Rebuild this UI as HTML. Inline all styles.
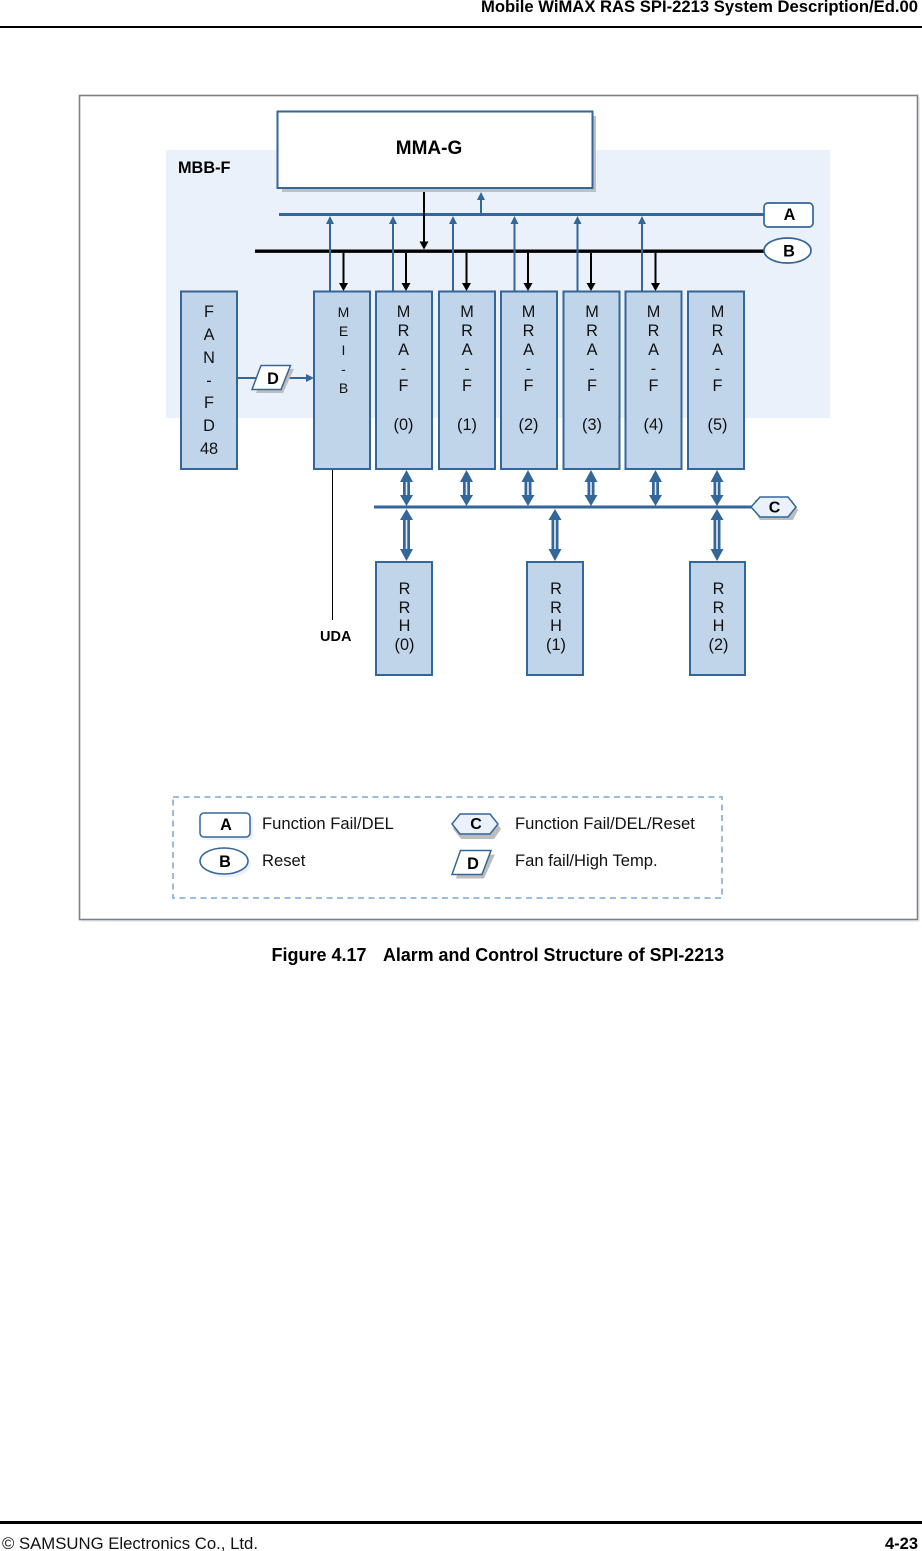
<!DOCTYPE html>
<html><head><meta charset="utf-8"><style>
html,body{margin:0;padding:0;background:#fff}
svg{display:block}
text{font-family:"Liberation Sans",sans-serif;fill:#111}
.b{font-weight:bold;fill:#000}
.m{text-anchor:middle}
.box{fill:#c1d5ea;stroke:#336699;stroke-width:2}
.t{font-size:16.300px;text-anchor:middle}
.blue{stroke:#336699;stroke-width:2;fill:none}
.k{stroke:#000;stroke-width:2;fill:none}
</style></head><body>
<svg width="922" height="1551" viewBox="0 0 922 1551" xmlns="http://www.w3.org/2000/svg">
<!-- header -->
<text x="918" y="12" font-size="16.500" class="b" text-anchor="end" textLength="437" lengthAdjust="spacingAndGlyphs">Mobile WiMAX RAS SPI-2213 System Description/Ed.00</text>
<rect x="0" y="26" width="922" height="2" fill="#000"/>
<!-- frame -->
<rect x="81" y="97" width="839" height="825" fill="#eaf1fa"/>
<rect x="79.500" y="95.500" width="838" height="824" fill="#fff" stroke="#808080" stroke-width="1.600"/>
<rect x="166" y="150" width="664" height="268" fill="#eaf1fa"/>
<text x="178" y="173" font-size="16.300" class="b">MBB-F</text>
<!-- MMA-G -->
<rect x="282" y="116" width="314" height="76" fill="#c0c0c0"/>
<rect x="277.500" y="111.500" width="315" height="76.500" fill="#fff" stroke="#336699" stroke-width="2"/>
<text x="429" y="154" font-size="19" class="b m">MMA-G</text>
<!-- buses -->
<line x1="279" y1="214.500" x2="766" y2="214.500" stroke="#336699" stroke-width="3"/>
<line x1="255" y1="251.200" x2="766" y2="251.200" stroke="#000" stroke-width="3.400"/>
<!-- MMA arrows -->
<line x1="424" y1="192" x2="424" y2="243" class="k"/><path d="M419.500 241.500h9l-4.500 8z" fill="#000"/>
<line x1="481" y1="198" x2="481" y2="213" class="blue" stroke-width="1.500"/><path d="M477 200h8l-4 -8z" fill="#336699"/>
<!-- blue up arrows -->
<g class="blue">
<path d="M330 224V291M393 224V291M453 224V291M514.500 224V291M577.500 224V291M642 224V291"/>
</g>
<g fill="#336699">
<path d="M326 224h8l-4 -8zM389 224h8l-4 -8zM449 224h8l-4 -8zM510.500 224h8l-4 -8zM573.500 224h8l-4 -8zM638 224h8l-4 -8z"/>
</g>
<!-- black down arrows -->
<path class="k" d="M343.500 253V284M406 253V284M466.500 253V284M528 253V284M591 253V284M655.500 253V284"/>
<g fill="#000">
<path d="M339 283h9l-4.500 8zM401.500 283h9l-4.500 8zM462 283h9l-4.500 8zM523.500 283h9l-4.500 8zM586.500 283h9l-4.500 8zM651 283h9l-4.500 8z"/>
</g>
<!-- boxes -->
<rect class="box" x="181" y="291.500" width="56" height="177.500"/>
<rect class="box" x="314" y="291.500" width="56" height="177.500"/>
<rect class="box" x="376" y="291.500" width="56" height="177.500"/>
<rect class="box" x="439" y="291.500" width="56" height="177.500"/>
<rect class="box" x="501" y="291.500" width="56" height="177.500"/>
<rect class="box" x="563.500" y="291.500" width="56" height="177.500"/>
<rect class="box" x="625.500" y="291.500" width="56" height="177.500"/>
<rect class="box" x="688" y="291.500" width="56" height="177.500"/>
<rect class="box" x="376" y="562" width="56" height="113"/>
<rect class="box" x="527" y="562" width="56" height="113"/>
<rect class="box" x="690" y="562" width="55" height="113"/>
<!-- FAN text -->
<g>
<text x="209" y="317" class="t">F</text><text x="209" y="340" class="t">A</text><text x="209" y="363" class="t">N</text><text x="209" y="386" class="t">-</text><text x="209" y="408" class="t">F</text><text x="209" y="431" class="t">D</text><text x="209" y="454" class="t">48</text>
</g>
<!-- MEI text -->
<g>
<text x="343.500" y="317" font-size="14" class="m">M</text><text x="343.500" y="336" font-size="14" class="m">E</text><text x="343.500" y="355" font-size="14" class="m">I</text><text x="343.500" y="374" font-size="14" class="m">-</text><text x="343.500" y="393" font-size="14" class="m">B</text>
</g>
<!-- MRA text -->
<g>
<text x="403.500" y="317" class="t">M</text><text x="403.500" y="336" class="t">R</text><text x="403.500" y="355" class="t">A</text><text x="403.500" y="374" class="t">-</text><text x="403.500" y="391" class="t">F</text><text x="403.500" y="430" class="t">(0)</text>
<text x="467" y="317" class="t">M</text><text x="467" y="336" class="t">R</text><text x="467" y="355" class="t">A</text><text x="467" y="374" class="t">-</text><text x="467" y="391" class="t">F</text><text x="467" y="430" class="t">(1)</text>
<text x="528.500" y="317" class="t">M</text><text x="528.500" y="336" class="t">R</text><text x="528.500" y="355" class="t">A</text><text x="528.500" y="374" class="t">-</text><text x="528.500" y="391" class="t">F</text><text x="528.500" y="430" class="t">(2)</text>
<text x="592" y="317" class="t">M</text><text x="592" y="336" class="t">R</text><text x="592" y="355" class="t">A</text><text x="592" y="374" class="t">-</text><text x="592" y="391" class="t">F</text><text x="592" y="430" class="t">(3)</text>
<text x="653.500" y="317" class="t">M</text><text x="653.500" y="336" class="t">R</text><text x="653.500" y="355" class="t">A</text><text x="653.500" y="374" class="t">-</text><text x="653.500" y="391" class="t">F</text><text x="653.500" y="430" class="t">(4)</text>
<text x="717.500" y="317" class="t">M</text><text x="717.500" y="336" class="t">R</text><text x="717.500" y="355" class="t">A</text><text x="717.500" y="374" class="t">-</text><text x="717.500" y="391" class="t">F</text><text x="717.500" y="430" class="t">(5)</text>
</g>
<!-- RRH text -->
<g>
<text x="404.500" y="594" class="t">R</text><text x="404.500" y="613" class="t">R</text><text x="404.500" y="631" class="t">H</text><text x="404.500" y="650" class="t">(0)</text>
<text x="556" y="594" class="t">R</text><text x="556" y="613" class="t">R</text><text x="556" y="631" class="t">H</text><text x="556" y="650" class="t">(1)</text>
<text x="718.500" y="594" class="t">R</text><text x="718.500" y="613" class="t">R</text><text x="718.500" y="631" class="t">H</text><text x="718.500" y="650" class="t">(2)</text>
</g>
<!-- FAN to MEI, D -->
<line x1="238" y1="378" x2="262" y2="378" class="blue" stroke-width="1.500"/>
<line x1="286" y1="378" x2="306" y2="378" class="blue" stroke-width="1.500"/>
<path d="M306 374l8 4 -8 4z" fill="#336699"/>
<path d="M265 369h29l-11 24h-27z" fill="#bdbdbd"/>
<path d="M261 365.500h29.500l-9.500 24h-29z" fill="#fff" stroke="#336699" stroke-width="1.500"/>
<text x="273" y="384" font-size="16.300" class="b m">D</text>
<!-- UDA -->
<line x1="332.500" y1="470" x2="332.500" y2="620" stroke="#000" stroke-width="1"/>
<text x="320" y="641" font-size="14.500" class="b">UDA</text>
<!-- C bus -->
<line x1="374" y1="507" x2="754" y2="507" stroke="#336699" stroke-width="3"/>
<!-- double arrows -->
<g fill="#336699">
<path d="M406.500 470l6.500 12h-3v13h3l-6.500 11 -6.500 -11h3v-13h-3z"/>
<path d="M466.500 470l6.500 12h-3v13h3l-6.500 11 -6.500 -11h3v-13h-3z"/>
<path d="M528 470l6.500 12h-3v13h3l-6.500 11 -6.500 -11h3v-13h-3z"/>
<path d="M591 470l6.500 12h-3v13h3l-6.500 11 -6.500 -11h3v-13h-3z"/>
<path d="M655.500 470l6.500 12h-3v13h3l-6.500 11 -6.500 -11h3v-13h-3z"/>
<path d="M717 470l6.500 12h-3v13h3l-6.500 11 -6.500 -11h3v-13h-3z"/>
<path d="M406.500 509l6.500 11h-3v29h3l-6.500 12 -6.500 -12h3v-29h-3z"/>
<path d="M555 509l6.500 11h-3v29h3l-6.500 12 -6.500 -12h3v-29h-3z"/>
<path d="M717 509l6.500 11h-3v29h3l-6.500 12 -6.500 -12h3v-29h-3z"/>
</g>
<g fill="#e4ebf4">
<rect x="405.700" y="482" width="1.600" height="13"/><rect x="465.700" y="482" width="1.600" height="13"/><rect x="527.200" y="482" width="1.600" height="13"/><rect x="590.200" y="482" width="1.600" height="13"/><rect x="654.700" y="482" width="1.600" height="13"/><rect x="716.200" y="482" width="1.600" height="13"/>
<rect x="405.700" y="520" width="1.600" height="29"/><rect x="554.200" y="520" width="1.600" height="29"/><rect x="716.200" y="520" width="1.600" height="29"/>
</g>
<!-- A B C bus tags -->
<rect x="764" y="203" width="49" height="24" rx="4" fill="#fff" stroke="#336699" stroke-width="1.700"/>
<text x="789.500" y="220" font-size="16.300" class="b m">A</text>
<ellipse cx="787.500" cy="250.500" rx="23.500" ry="12.500" fill="#fff" stroke="#336699" stroke-width="1.700"/>
<text x="789" y="256.500" font-size="16.300" class="b m">B</text>
<path d="M755 500h37l6 10 -5 10h-33l-6 -10z" fill="#bdbdbd"/>
<path d="M751 507l9 -10h28l8 10 -8 10h-28z" fill="#eaf1fa" stroke="#336699" stroke-width="1.500"/>
<text x="774.500" y="512.500" font-size="16" class="b m">C</text>
<!-- legend -->
<rect x="173" y="797" width="549" height="101" fill="#fff" stroke="#8fb4d9" stroke-width="1.800" stroke-dasharray="6 4.500"/>
<rect x="203" y="816" width="50" height="24" rx="4" fill="#eaf1fa"/>
<rect x="200" y="813" width="50" height="24" rx="4" fill="#fff" stroke="#336699" stroke-width="1.500"/>
<text x="226" y="830" font-size="16.300" class="b m">A</text>
<ellipse cx="227" cy="864" rx="24" ry="13.500" fill="#eaf1fa"/>
<ellipse cx="224" cy="861" rx="24" ry="13" fill="#fff" stroke="#336699" stroke-width="1.500"/>
<text x="225" y="867" font-size="16.300" class="b m">B</text>
<text x="262" y="829" font-size="16.600">Function Fail/DEL</text>
<text x="262" y="866" font-size="16.600">Reset</text>
<path d="M456 819h38l7 10 -7 10h-33l-8 -10z" fill="#bdbdbd"/>
<path d="M452 824l8 -10h30l8 10 -8 10h-30z" fill="#eaf1fa" stroke="#336699" stroke-width="1.500"/>
<text x="476" y="829" font-size="16" class="b m">C</text>
<path d="M462 854.500h33l-11 24h-28z" fill="#bdbdbd"/>
<path d="M460.500 850.500h30.500l-9 24h-30z" fill="#fff" stroke="#336699" stroke-width="1.500"/>
<text x="473" y="869" font-size="16.300" class="b m">D</text>
<text x="515" y="829" font-size="16.600">Function Fail/DEL/Reset</text>
<text x="515" y="866" font-size="16.600">Fan fail/High Temp.</text>
<!-- caption -->
<text x="271.500" y="961" font-size="18" class="b" textLength="95" lengthAdjust="spacingAndGlyphs">Figure 4.17</text>
<text x="383" y="961" font-size="18" class="b" textLength="341" lengthAdjust="spacingAndGlyphs">Alarm and Control Structure of SPI-2213</text>
<!-- footer -->
<rect x="0" y="1521" width="922" height="3" fill="#000"/>
<text x="2" y="1549" font-size="17" textLength="256" lengthAdjust="spacingAndGlyphs">© SAMSUNG Electronics Co., Ltd.</text>
<text x="918" y="1549" font-size="16.500" class="b" text-anchor="end">4-23</text>
</svg>
</body></html>
